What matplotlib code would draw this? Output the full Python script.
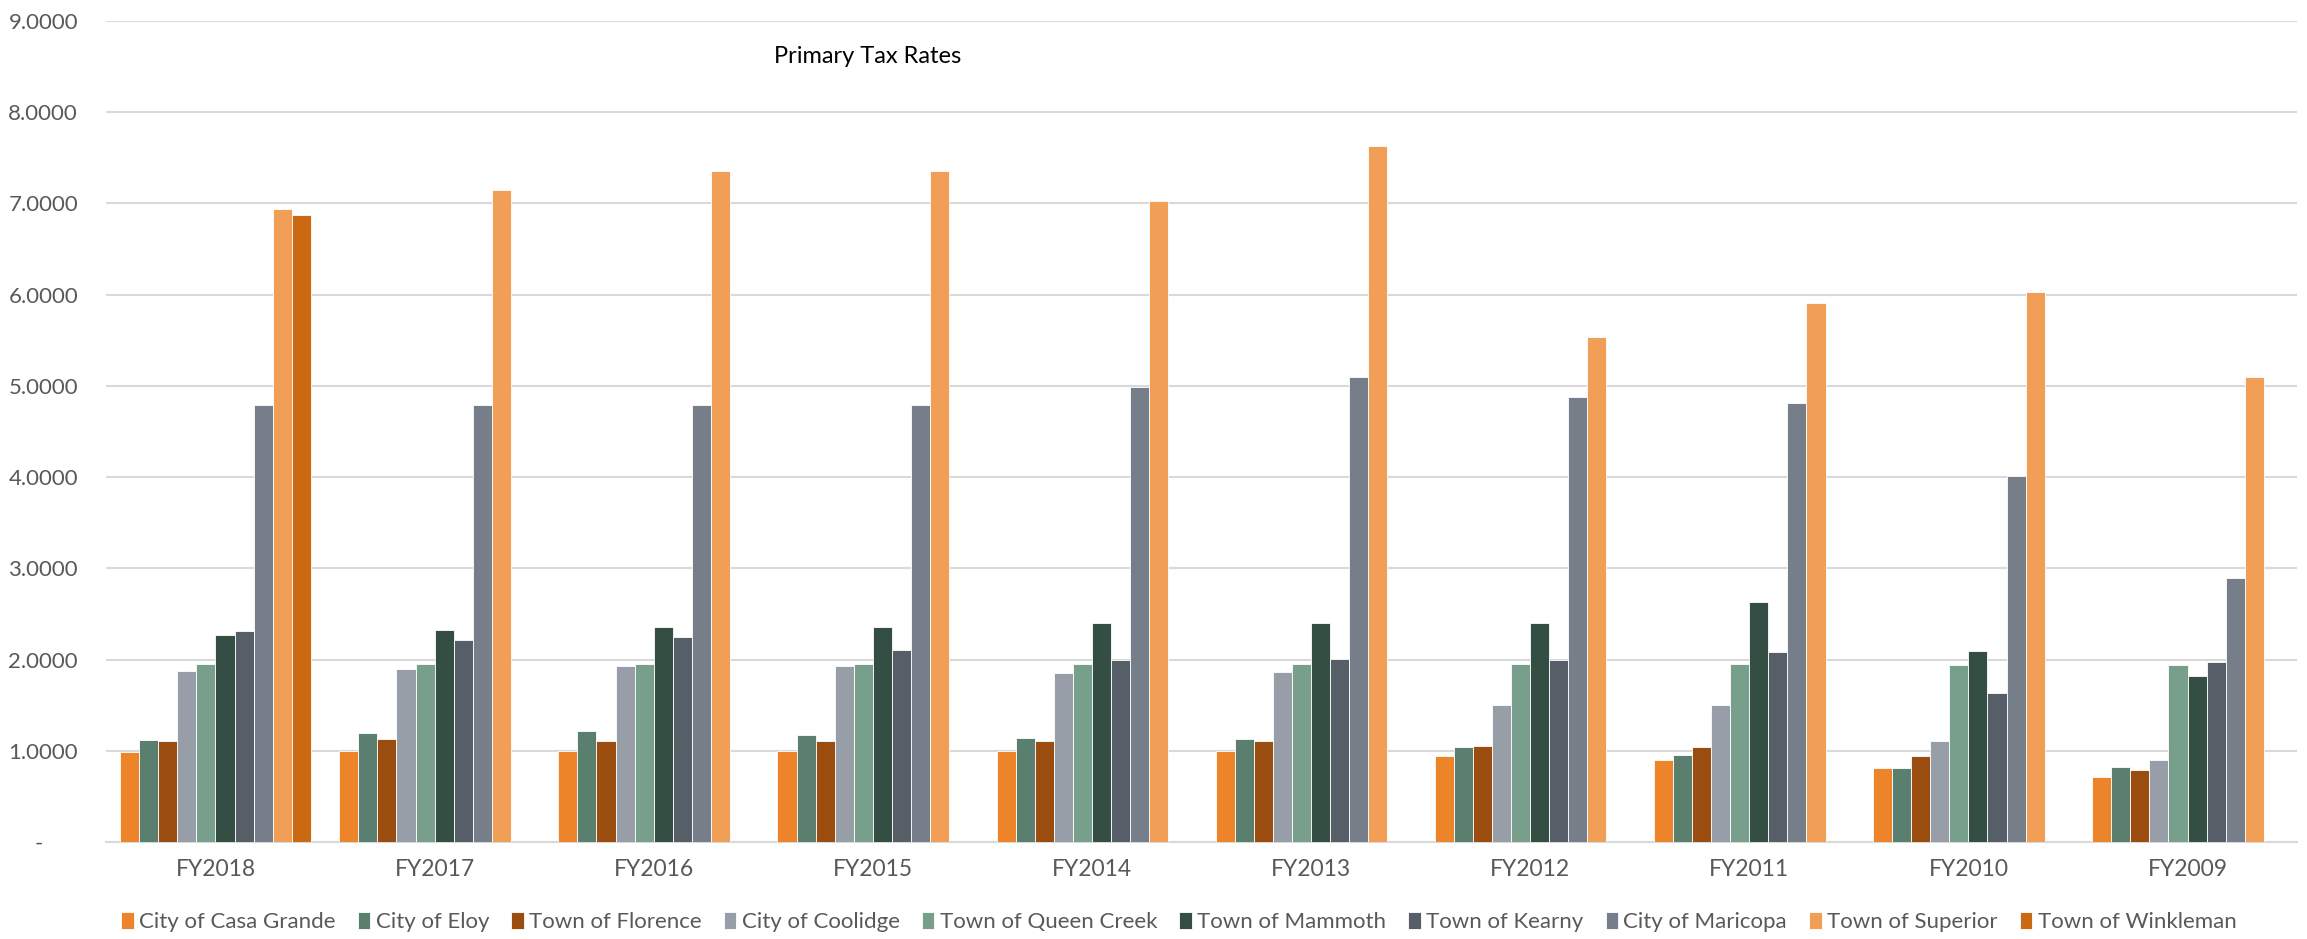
import numpy as np
import matplotlib.pyplot as plt
from matplotlib.ticker import FixedLocator, FuncFormatter

plt.rcParams['font.family'] = ['Lato', 'DejaVu Sans']

years = ['FY2018', 'FY2017', 'FY2016', 'FY2015', 'FY2014',
         'FY2013', 'FY2012', 'FY2011', 'FY2010', 'FY2009']

towns = ['City of Casa Grande', 'City of Eloy', 'Town of Florence', 'City of Coolidge',
         'Town of Queen Creek', 'Town of Mammoth', 'Town of Kearny', 'City of Maricopa',
         'Town of Superior', 'Town of Winkleman']

colors = ['#ED8429', '#5A7F6F', '#9A4D0E', '#979EA7', '#779F8B',
          '#354E43', '#565F67', '#757E89', '#F19E56', '#CB6812']

# one list per town, same order as years
casa_grande = [0.99, 1.00, 1.00, 1.00, 1.00, 1.00, 0.95, 0.90, 0.81, 0.71]
eloy        = [1.12, 1.20, 1.22, 1.17, 1.14, 1.13, 1.04, 0.96, 0.81, 0.83]
florence    = [1.11, 1.13, 1.11, 1.11, 1.11, 1.11, 1.05, 1.04, 0.94, 0.79]
coolidge    = [1.88, 1.90, 1.93, 1.93, 1.85, 1.86, 1.50, 1.50, 1.11, 0.90]
queen_creek = [1.95, 1.95, 1.95, 1.95, 1.95, 1.95, 1.95, 1.95, 1.94, 1.94]
mammoth     = [2.27, 2.32, 2.36, 2.36, 2.40, 2.40, 2.40, 2.63, 2.10, 1.82]
kearny      = [2.31, 2.22, 2.25, 2.11, 2.00, 2.01, 2.00, 2.08, 1.64, 1.97]
maricopa    = [4.79, 4.79, 4.79, 4.79, 4.99, 5.10, 4.88, 4.81, 4.01, 2.89]
superior    = [6.94, 7.14, 7.35, 7.35, 7.02, 7.63, 5.53, 5.91, 6.03, 5.10]
winkleman   = [6.87, np.nan, np.nan, np.nan, np.nan, np.nan, np.nan, np.nan, np.nan, np.nan]

series = [casa_grande, eloy, florence, coolidge, queen_creek,
          mammoth, kearny, maricopa, superior, winkleman]

fig = plt.figure(figsize=(23.07, 9.39), dpi=100)
ax = fig.add_axes([0.0459, 0.1030, 0.9498, 0.8750])

x = np.arange(len(years))
w = 0.087
n = len(series)
for i, vals in enumerate(series):
    off = (i - (n - 1) / 2) * w
    ax.bar(x + off, vals, width=w, color=colors[i], label=towns[i],
           edgecolor='white', linewidth=0.6, zorder=3)

ax.set_xlim(-0.5, len(years) - 0.5)
ax.set_ylim(0, 9)
ax.yaxis.set_major_locator(FixedLocator(np.arange(0, 10, 1)))
ax.yaxis.set_major_formatter(FuncFormatter(lambda v, p: '-      ' if v == 0 else f'{v:.4f}'))
ax.set_xticks(x)
ax.set_xticklabels(years)

ax.grid(axis='y', color='#D9D9D9', linewidth=1.5, zorder=0)
for s in ['top', 'right', 'left']:
    ax.spines[s].set_visible(False)
ax.spines['bottom'].set_color('#D9D9D9')
ax.spines['bottom'].set_linewidth(1.5)
ax.tick_params(axis='both', length=0, labelsize=16, labelcolor='#595959')
ax.tick_params(axis='x', labelsize=16.5, pad=12)
ax.tick_params(axis='y', pad=20)

fig.text(0.376, 0.940, 'Primary Tax Rates', ha='center', va='center',
         fontsize=17, color='black')

fig.legend(loc='center', bbox_to_anchor=(0.511, 0.018), ncol=10, frameon=False,
           fontsize=16, labelcolor='#595959', handlelength=0.55, handleheight=0.8,
           handletextpad=0.25, columnspacing=1.0)

fig.savefig('out.png', dpi=100)
